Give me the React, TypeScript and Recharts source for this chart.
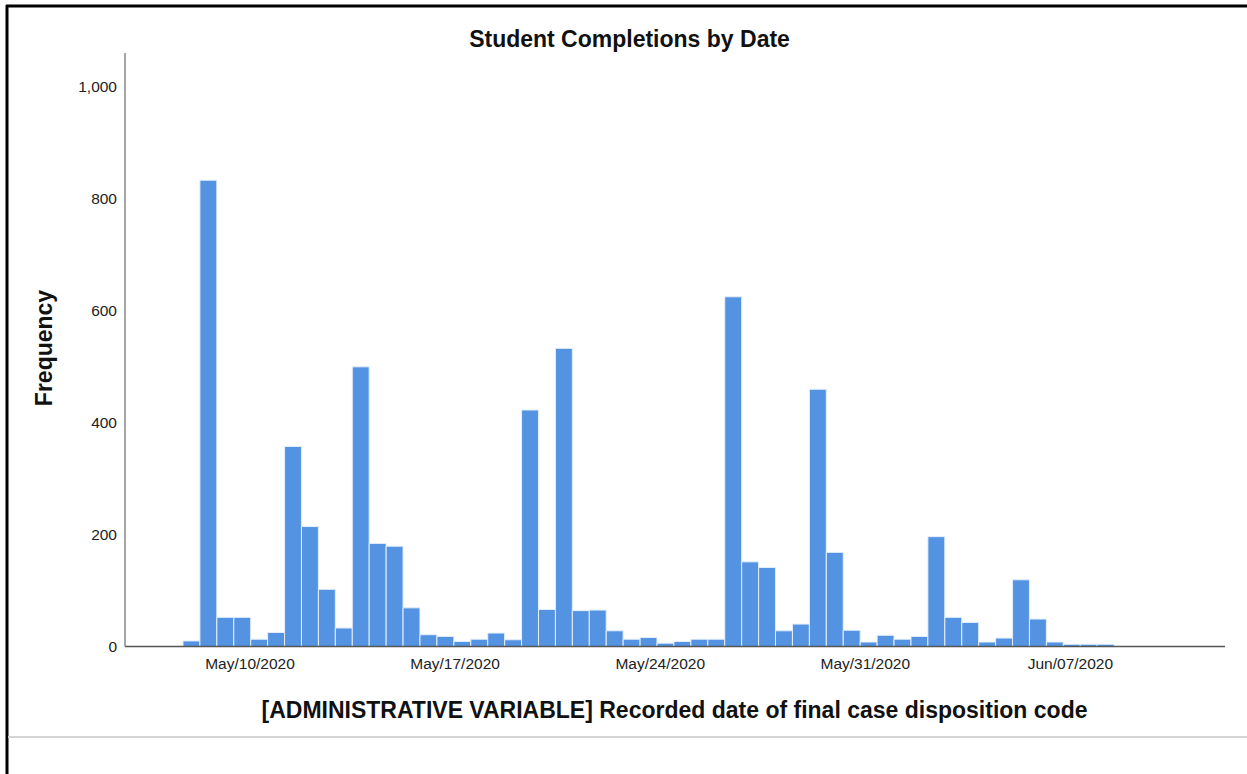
import React from 'react';
import { BarChart, Bar, XAxis, YAxis } from 'recharts';

// Histogram bins: each bin is ~13.9 hours wide, first bin starts on May 7.71 (day-of-May numbering)
const binStartDay = 7.713;
const binWidthDays = 0.5778;

const counts: number[] = [
  10, 832, 52, 52, 13, 25, 357, 214, 102, 33,
  499, 184, 179, 69, 21, 18, 9, 13, 24, 12,
  422, 66, 532, 64, 65, 28, 13, 16, 6, 9,
  13, 13, 624, 151, 141, 28, 40, 459, 168, 29,
  8, 20, 13, 18, 196, 52, 43, 8, 15, 119,
  49, 8, 4, 4, 4,
];

const tickDays: number[] = [10, 17, 24, 31, 38];
const tickLabels: string[] = ['May/10/2020', 'May/17/2020', 'May/24/2020', 'May/31/2020', 'Jun/07/2020'];
const yTicks: number[] = [0, 200, 400, 600, 800, 1000];

const xDomain: [number, number] = [5.734, 43.276];
const yDomain: [number, number] = [0, 1059];

const title = 'Student Completions by Date';
const xTitle = '[ADMINISTRATIVE VARIABLE] Recorded date of final case disposition code';
const yTitle = 'Frequency';

const data = counts.map((c, i) => ({ day: binStartDay + (i + 0.5) * binWidthDays, count: c }));

const FONT = '"Liberation Sans", Arial, sans-serif';

export default function App() {
  return (
    <div style={{ position: 'absolute', left: 0, top: 0, width: 1247, height: 774, background: '#fff', overflow: 'hidden' }}>
      <BarChart
        width={1247}
        height={774}
        data={data}
        margin={{ top: 53, right: 22, bottom: 97.5, left: 65 }}
        barGap={0}
        barCategoryGap={0}
      >
        <XAxis
          dataKey="day"
          type="number"
          scale="linear"
          domain={xDomain}
          allowDataOverflow
          ticks={tickDays}
          tickFormatter={(v: number) => tickLabels[tickDays.indexOf(v)] ?? ''}
          tickLine={false}
          tickSize={6}
          tickMargin={5.5}
          interval={0}
          axisLine={{ stroke: '#555', strokeWidth: 1.5 }}
          tick={{ fill: '#222', fontSize: 15.5, fontFamily: FONT }}
          height={30}
        />
        <YAxis
          type="number"
          domain={yDomain}
          ticks={yTicks}
          allowDataOverflow
          tickLine={false}
          tickSize={6}
          tickMargin={2}
          interval={0}
          width={60}
          axisLine={{ stroke: '#888', strokeWidth: 1.5 }}
          tick={{ fill: '#222', fontSize: 15.5, fontFamily: FONT }}
          tickFormatter={(v: number) => v.toLocaleString('en-US')}
        />
        <Bar
          dataKey="count"
          fill="#5393e2"
          stroke="#e4eefb"
          strokeWidth={1}
          barSize={16.9}
          isAnimationActive={false}
        />
      </BarChart>
      <svg width={1247} height={774} style={{ position: 'absolute', left: 0, top: 0, pointerEvents: 'none' }}>
        <line x1={6} y1={6} x2={1247} y2={6} stroke="#000" strokeWidth={3} />
        <line x1={7} y1={5} x2={7} y2={774} stroke="#000" strokeWidth={3} />
        <line x1={8} y1={737} x2={1247} y2={737} stroke="#d4d4d4" strokeWidth={2} />
        <text x={629.5} y={46.7} textAnchor="middle" fontFamily={FONT} fontWeight="bold" fontSize={23} fill="#111">
          {title}
        </text>
        <text x={674.5} y={718} textAnchor="middle" fontFamily={FONT} fontWeight="bold" fontSize={23} fill="#111">
          {xTitle}
        </text>
        <text
          x={0}
          y={0}
          transform="translate(52,348) rotate(-90)"
          textAnchor="middle"
          fontFamily={FONT}
          fontWeight="bold"
          fontSize={23}
          fill="#111"
        >
          {yTitle}
        </text>
      </svg>
    </div>
  );
}
